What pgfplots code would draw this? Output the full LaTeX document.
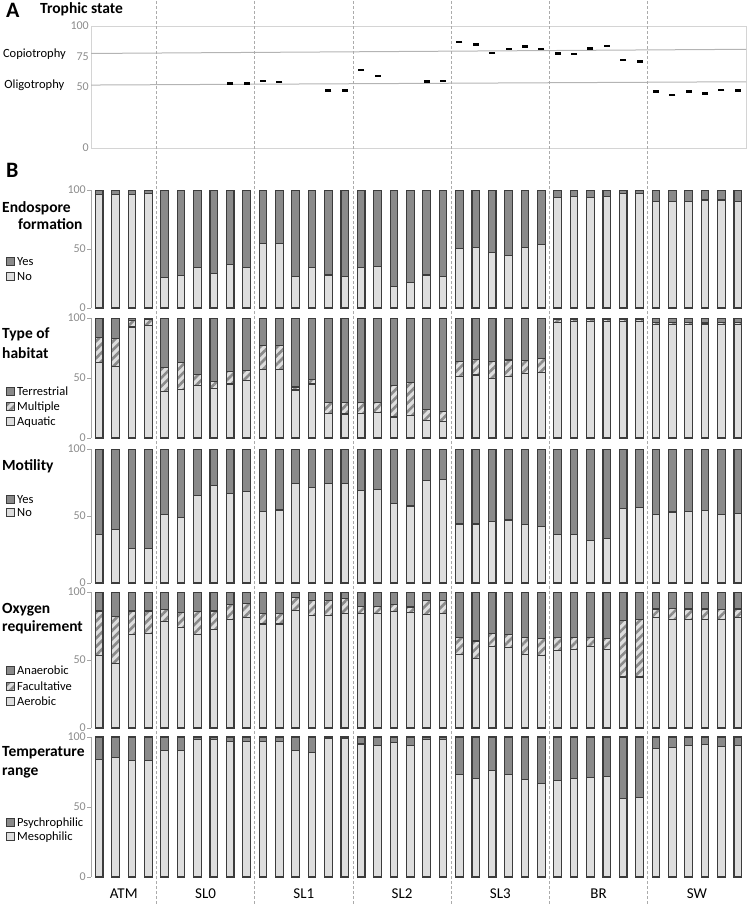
\documentclass[border=0pt]{standalone}
\usepackage{fontspec}
\setmainfont{Carlito}
\usepackage{pgfplots}
\usepackage{pgfplotstable}
\pgfplotsset{compat=1.18}
\usetikzlibrary{patterns.meta}

\definecolor{lightbar}{HTML}{DEDEDE}
\definecolor{darkbar}{HTML}{8A8A8A}
\definecolor{barline}{HTML}{3C3C3C}
\definecolor{ticktext}{HTML}{8C8C8C}
\definecolor{axisgray}{HTML}{A6A6A6}
\definecolor{framegray}{HTML}{D4D4D4}
\definecolor{refline}{HTML}{B4B4B4}
\definecolor{sepgray}{HTML}{ABABAB}

% trophic state, samples without a value are left out
\pgfplotstableread{
x y
8 53
9 53
10 55
11 54
14 47
15 47
16 64
17 59
20 54.5
21 55
22 87
23 85
24 78
25 81
26 83
27 81
28 77.5
29 77
30 81.5
31 83.5
32 72
33 71
34 46.5
35 43.5
36 46.5
37 44.5
38 47.5
39 47
}\tabTroph

\pgfplotstableread{
x no yes
0 96 4
1 96 4
2 96 4
3 97 3
4 25.5 74.5
5 27.5 72.5
6 34.5 65.5
7 29.5 70.5
8 36.5 63.5
9 34.5 65.5
10 55 45
11 55 45
12 27 73
13 34 66
14 28 72
15 27 73
16 34.5 65.5
17 35 65
18 18 82
19 21.5 78.5
20 28 72
21 26.5 73.5
22 50.5 49.5
23 51.5 48.5
24 47 53
25 44.5 55.5
26 51.5 48.5
27 53.5 46.5
28 94 6
29 94.5 5.5
30 94 6
31 94.5 5.5
32 97 3
33 97 3
34 90 10
35 90 10
36 90 10
37 91.5 8.5
38 91.5 8.5
39 90 10
}\tabEndo

\pgfplotstableread{
x aq mu te
0 63 21 16
1 59.5 23.5 17
2 92.5 5.5 2
3 93.5 5.5 1
4 39 19.5 41.5
5 40.5 22.5 37
6 43.5 9.5 47
7 41.5 5.5 53
8 45 10.5 44.5
9 48 8 44
10 57 20 23
11 57 20 23
12 40 2.5 57.5
13 45 4 51
14 20.5 9 70.5
15 20 9.5 70.5
16 20.5 9 70.5
17 21 8.5 70.5
18 17.5 26 56.5
19 19 27.5 53.5
20 14.5 9 76.5
21 14 8 78
22 51.5 12.5 36
23 52.5 13 34.5
24 49.5 14.5 36
25 51.5 13.5 35
26 53.5 11 35.5
27 54.5 12 33.5
28 96.5 2 1.5
29 97 1.5 1.5
30 97 1.5 1.5
31 97 1.5 1.5
32 97 1.5 1.5
33 97 1.5 1.5
34 94.5 1.5 4
35 94.5 1.5 4
36 94.5 2 3.5
37 95 1.5 3.5
38 94.5 1.5 4
39 94.5 2 3.5
}\tabHab

\pgfplotstableread{
x no yes
0 36 64
1 40 60
2 26 74
3 25.5 74.5
4 51 49
5 49 51
6 65.5 34.5
7 73 27
8 66.5 33.5
9 68 32
10 53.5 46.5
11 54.5 45.5
12 74.5 25.5
13 71 29
14 74 26
15 74 26
16 69 31
17 69.5 30.5
18 59.5 40.5
19 57.5 42.5
20 76.5 23.5
21 77.5 22.5
22 44 56
23 44 56
24 46 54
25 47 53
26 43.5 56.5
27 42.5 57.5
28 36.5 63.5
29 36.5 63.5
30 32 68
31 33.5 66.5
32 55.5 44.5
33 56.5 43.5
34 51 49
35 53 47
36 53.5 46.5
37 54 46
38 51 49
39 52 48
}\tabMot

\pgfplotstableread{
x ae fa an
0 53.5 32.5 14
1 47.5 34.5 18
2 69 17 14
3 69.5 16.5 14
4 78 9 13
5 74 11 15
6 69 16.5 14.5
7 72.5 13.5 14
8 79.5 11 9.5
9 81 10.5 8.5
10 76.5 8 15.5
11 76.5 8 15.5
12 86.5 9.5 4
13 83 11 6
14 83 11 6
15 84 11 5
16 84 5.5 10.5
17 84 5.5 10.5
18 85.5 5 9.5
19 85 4 11
20 83.5 10.5 6
21 84.5 9.5 6
22 54 12.5 33.5
23 51 13 36
24 60 9.5 30.5
25 59 10 31
26 54 12.5 33.5
27 53.5 12 34.5
28 57 9.5 33.5
29 58 8.5 33.5
30 60 6.5 33.5
31 58 8 34
32 37.5 41.5 21
33 37.5 42.5 20
34 81 6.5 12.5
35 80 8 12
36 79.5 8 12.5
37 80 7.5 12.5
38 80 7 13
39 81 6.5 12.5
}\tabOxy

\pgfplotstableread{
x me ps
0 84 16
1 85.5 14.5
2 83 17
3 83 17
4 90.5 9.5
5 90.5 9.5
6 98 2
7 98 2
8 96.5 3.5
9 96.5 3.5
10 96.5 3.5
11 96.5 3.5
12 90.5 9.5
13 89 11
14 99.3 0.7
15 99 1
16 95 5
17 94 6
18 96 4
19 94 6
20 98.5 1.5
21 98.5 1.5
22 73 27
23 70.5 29.5
24 76 24
25 73.5 26.5
26 69.5 30.5
27 67 33
28 69 31
29 70.5 29.5
30 71 29
31 71.5 28.5
32 56 44
33 56.5 43.5
34 92 8
35 92.5 7.5
36 94 6
37 94.5 5.5
38 93.5 6.5
39 94 6
}\tabTemp

\tikzset{
  barlight/.style={fill=lightbar, draw=barline, line width=1.1pt},
  bardark/.style={fill=darkbar, draw=barline, line width=1.1pt},
  barhatch/.style={draw=barline, line width=1.1pt, preaction={fill=lightbar},
    pattern={Lines[angle=45,distance=6pt,line width=2.6pt]}, pattern color=darkbar},
}

\pgfplotsset{
  /pgf/number format/assume math mode=true,
  panelB/.style={
    scale only axis, width=655pt, anchor=south west,
    xmin=-0.5, xmax=39.5, ymin=0, ymax=100,
    ybar stacked, bar width=7.6pt,
    axis lines*=left, x axis line style={draw=none}, xtick style={draw=none},
    xtick=\empty,
    y axis line style={axisgray, line width=0.8pt},
    ytick={0,50,100}, ytick style={axisgray, line width=0.8pt},
    tick align=outside, major tick length=4pt,
    yticklabel style={font=\fontsize{12}{12}\selectfont, text=ticktext, inner sep=1pt},
  },
}

\newcommand{\legitem}[3]{%
  \begin{scope}[shift={(0pt,-#2pt)}]
    \draw[#1, line width=0.9pt] (6pt,-4pt) rectangle (14pt,4pt);
    \node[anchor=base west, inner sep=0pt, font=\fontsize{12.5}{12.5}\selectfont] at (17pt,-4pt) {#3};
  \end{scope}}
\newcommand{\ttl}[3]{%
  \node[anchor=base west, inner sep=0pt, font=\fontsize{15.5}{15.5}\selectfont\bfseries] at (#1pt,-#2pt) {#3};}

\begin{document}
\begin{tikzpicture}
\useasboundingbox (0pt,0pt) rectangle (747pt,-904pt);

% ---- A: trophic state
\node[anchor=base west, inner sep=0pt, font=\fontsize{22}{22}\selectfont\bfseries] at (6pt,-17.5pt) {A};
\ttl{40}{13.5}{Trophic state}
\node[anchor=base east, inner sep=0pt, font=\fontsize{12.5}{12.5}\selectfont] at (66pt,-57.5pt) {Copiotrophy};
\node[anchor=base east, inner sep=0pt, font=\fontsize{12.5}{12.5}\selectfont] at (64.5pt,-89pt) {Oligotrophy};
\begin{axis}[
  scale only axis, width=655pt, height=122pt, at={(91pt,-148pt)}, anchor=south west,
  xmin=-0.5, xmax=39.5, ymin=0, ymax=100,
  xtick=\empty, ytick={0,50,75,100}, major tick length=0pt,
  axis line style={framegray, line width=0.8pt},
  yticklabel style={font=\fontsize{12}{12}\selectfont, text=ticktext, inner sep=2pt},
]
\addplot[refline, line width=1pt] coordinates {(-0.5,77.5) (39.5,80.9)};
\addplot[refline, line width=1pt] coordinates {(-0.5,51.6) (39.5,54.3)};
\addplot[only marks, mark=-, mark size=3pt, mark options={line width=2.6pt, black}] table[x=x, y=y] {\tabTroph};
\end{axis}

% ---- B
\node[anchor=base west, inner sep=0pt, font=\fontsize{22}{22}\selectfont\bfseries] at (6pt,-178pt) {B};

% endospore formation
\ttl{2}{212.5}{Endospore}
\ttl{18}{229.5}{formation}
\legitem{bardark}{261.7}{Yes}
\legitem{barlight}{276}{No}
\begin{axis}[panelB, height=118pt, at={(91pt,-308pt)}]
\addplot[barlight] table[x=x, y=no] {\tabEndo};
\addplot[bardark] table[x=x, y=yes] {\tabEndo};
\end{axis}

% type of habitat
\ttl{2}{338.5}{Type of}
\ttl{2}{358.5}{habitat}
\legitem{bardark}{391.7}{Terrestrial}
\legitem{barhatch}{406.7}{Multiple}
\legitem{barlight}{421.7}{Aquatic}
\begin{axis}[panelB, height=120pt, at={(91pt,-438pt)}]
\addplot[barlight] table[x=x, y=aq] {\tabHab};
\addplot[barhatch] table[x=x, y=mu] {\tabHab};
\addplot[bardark] table[x=x, y=te] {\tabHab};
\end{axis}

% motility
\ttl{2}{470}{Motility}
\legitem{bardark}{499}{Yes}
\legitem{barlight}{512.7}{No}
\begin{axis}[panelB, height=134pt, at={(91pt,-583pt)}]
\addplot[barlight] table[x=x, y=no] {\tabMot};
\addplot[bardark] table[x=x, y=yes] {\tabMot};
\end{axis}

% oxygen requirement
\ttl{2}{613.5}{Oxygen}
\ttl{2}{631.5}{requirement}
\legitem{bardark}{670.7}{Anaerobic}
\legitem{barhatch}{686}{Facultative}
\legitem{barlight}{701.7}{Aerobic}
\begin{axis}[panelB, height=136pt, at={(91pt,-728pt)}]
\addplot[barlight] table[x=x, y=ae] {\tabOxy};
\addplot[barhatch] table[x=x, y=fa] {\tabOxy};
\addplot[bardark] table[x=x, y=an] {\tabOxy};
\end{axis}

% temperature range
\ttl{2}{756.5}{Temperature}
\ttl{2}{775}{range}
\legitem{bardark}{822.7}{Psychrophilic}
\legitem{barlight}{836.7}{Mesophilic}
\begin{axis}[panelB, height=140pt, at={(91pt,-877pt)}, clip=false,
  xtick={1.5,6.5,12.5,18.5,24.5,30.5,36.5},
  xticklabels={ATM,SL0,SL1,SL2,SL3,BR,SW},
  xticklabel style={font=\fontsize{15}{15}\selectfont, anchor=base, yshift=-17pt},
]
\addplot[barlight] table[x=x, y=me] {\tabTemp};
\addplot[bardark] table[x=x, y=ps] {\tabTemp};
% group separators run over the whole figure
\pgfplotsinvokeforeach{3.5,9.5,15.5,21.5,27.5,33.5}{
  \draw[sepgray, densely dashed, line width=0.7pt] (axis cs:#1,0) ++(0pt,-27pt) -- ++(0pt,904pt);
}
\end{axis}
\end{tikzpicture}
\end{document}
